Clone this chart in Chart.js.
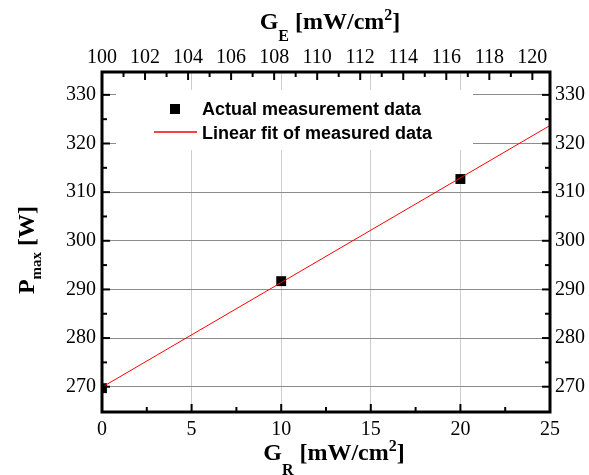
<!DOCTYPE html>
<html>
<head>
<meta charset="utf-8">
<script src="https://cdn.jsdelivr.net/npm/chart.js@4.4.1/dist/chart.umd.min.js"></script>
<style>
html,body{margin:0;padding:0;background:#fff;}
#wrap{width:589px;height:475px;}
</style>
</head>
<body>
<div id="wrap"><canvas id="c" width="589" height="475"></canvas></div>
<script>
// ---- data ----
const measuredGR = [0, 10, 20];
const measuredPmax = [269.7, 291.7, 312.7];
const fitGR = [0, 25];
const fitPmax = [269.9, 323.7];
const bottomTicks = [0, 5, 10, 15, 20, 25];
const bottomMinor = [2.5, 7.5, 12.5, 17.5, 22.5];
const topTicks = [100, 102, 104, 106, 108, 110, 112, 114, 116, 118, 120];
const topMinor = [101, 103, 105, 107, 109, 111, 113, 115, 117, 119];
const yTicks = [270, 280, 290, 300, 310, 320, 330];
const yMinor = [275, 285, 295, 305, 315, 325];
const seriesLabels = ['Actual measurement data', 'Linear fit of measured data'];
const bottomTitle = [['G', 'n'], ['R', 'sub'], [' [mW/cm', 'n'], ['2', 'sup'], [']', 'n']];
const topTitle = [['G', 'n'], ['E', 'sub'], [' [mW/cm', 'n'], ['2', 'sup'], [']', 'n']];
const leftTitle = [['P', 'n'], ['max', 'sub'], [' [W]', 'n']];

const SERIF = "'Liberation Serif'";
const SANS = "'Liberation Sans'";
Chart.defaults.font.family = SERIF;
Chart.defaults.color = '#000';

function drawRich(ctx, parts, cx, y, opt) {
  const fonts = {n: 'bold ' + opt.main + 'px ' + SERIF, sub: 'bold ' + opt.sub + 'px ' + SERIF, sup: 'bold ' + opt.sup + 'px ' + SERIF};
  const dys = {n: 0, sub: opt.subDy, sup: opt.supDy};
  let total = 0;
  const w = parts.map(p => { ctx.font = fonts[p[1]]; const m = ctx.measureText(p[0]).width; total += m; return m; });
  let x = cx - total / 2;
  ctx.textAlign = 'left';
  ctx.textBaseline = 'alphabetic';
  ctx.fillStyle = '#000';
  parts.forEach((p, i) => { ctx.font = fonts[p[1]]; ctx.fillText(p[0], x, y + dys[p[1]]); x += w[i]; });
}

const framePlugin = {
  id: 'frame',
  afterDraw(chart) {
    const ctx = chart.ctx, a = chart.chartArea, s = chart.scales;
    ctx.save();
    // legend
    const bx = a.left + 14, by = a.top + 18;
    ctx.fillStyle = '#ffffff';
    ctx.fillRect(bx, by, 357, 60);
    ctx.fillStyle = '#000000';
    ctx.fillRect(bx + 54, by + 14, 10, 10);
    ctx.font = 'bold 18px ' + SANS;
    ctx.textAlign = 'left'; ctx.textBaseline = 'alphabetic';
    ctx.fillText(seriesLabels[0], bx + 86, by + 25);
    ctx.fillText(seriesLabels[1], bx + 86, by + 48.5);
    ctx.beginPath();
    ctx.strokeStyle = '#ff0000';
    ctx.lineWidth = 1.5;
    ctx.moveTo(bx + 38, by + 42); ctx.lineTo(bx + 81, by + 42);
    ctx.stroke();
    // frame
    ctx.strokeStyle = '#000000';
    ctx.lineWidth = 3;
    ctx.strokeRect(a.left, a.top, a.right - a.left, a.bottom - a.top);
    // ticks
    ctx.lineWidth = 2;
    const tick = (x1, y1, x2, y2) => { ctx.beginPath(); ctx.moveTo(x1, y1); ctx.lineTo(x2, y2); ctx.stroke(); };
    bottomTicks.forEach(v => { const p = s.x.getPixelForValue(v); tick(p, a.bottom, p, a.bottom - 8); });
    bottomMinor.forEach(v => { const p = s.x.getPixelForValue(v); tick(p, a.bottom, p, a.bottom - 5); });
    topTicks.forEach(v => { const p = s.x2.getPixelForValue(v); tick(p, a.top, p, a.top + 8); });
    topMinor.forEach(v => { const p = s.x2.getPixelForValue(v); tick(p, a.top, p, a.top + 5); });
    yTicks.forEach(v => { const p = s.y.getPixelForValue(v); tick(a.left, p, a.left + 8, p); tick(a.right, p, a.right - 8, p); });
    yMinor.forEach(v => { const p = s.y.getPixelForValue(v); tick(a.left, p, a.left + 5, p); tick(a.right, p, a.right - 5, p); });
    // titles
    drawRich(ctx, bottomTitle, (a.left + a.right) / 2 + 8, 460, {main: 24, sub: 16, sup: 16, subDy: 15, supDy: -9});
    drawRich(ctx, topTitle, (a.left + a.right) / 2 + 4, 29, {main: 24, sub: 16, sup: 16, subDy: 12, supDy: -9});
    ctx.translate(33.5, 250);
    ctx.rotate(-Math.PI / 2);
    drawRich(ctx, leftTitle, 0, 0, {main: 24, sub: 15, sup: 15, subDy: 7.5, supDy: -9});
    ctx.restore();
  }
};

const setTicks = arr => scale => { scale.ticks = arr.map(v => ({value: v})); };
const tickFont = () => ({family: SERIF, size: 20, weight: 'normal'});

new Chart(document.getElementById('c'), {
  type: 'scatter',
  data: {
    datasets: [
      {label: seriesLabels[0], data: measuredGR.map((x, i) => ({x: x, y: measuredPmax[i]})),
       pointStyle: 'rect', pointRadius: 7, pointHoverRadius: 7, backgroundColor: '#000', borderColor: '#000', borderWidth: 0,
       xAxisID: 'x', yAxisID: 'y', order: 1, clip: 0},
      {label: seriesLabels[1], data: fitGR.map((x, i) => ({x: x, y: fitPmax[i]})),
       showLine: true, pointRadius: 0, pointHoverRadius: 0, borderColor: '#ff0000', borderWidth: 1,
       xAxisID: 'x', yAxisID: 'y', order: 0, clip: 0}
    ]
  },
  options: {
    responsive: false,
    animation: false,
    devicePixelRatio: 1,
    layout: {padding: 0},
    plugins: {legend: {display: false}, tooltip: {enabled: false}},
    scales: {
      x: {type: 'linear', position: 'bottom', min: 0, max: 25,
          afterBuildTicks: setTicks(bottomTicks),
          afterFit: s => { s.height = 63; },
          grid: {color: c => (c.tick && (c.tick.value === 0 || c.tick.value === 25)) ? 'rgba(0,0,0,0)' : '#cccccc', lineWidth: 1, drawTicks: false},
          border: {display: false},
          ticks: {font: tickFont(), color: '#000', padding: 6, maxRotation: 0, autoSkip: false}},
      x2: {type: 'linear', position: 'top', min: 100, max: 120.82,
          afterBuildTicks: setTicks(topTicks),
          afterFit: s => { s.height = 72; },
          grid: {display: false, drawTicks: false},
          border: {display: false},
          ticks: {font: tickFont(), color: '#000', padding: 2, maxRotation: 0, autoSkip: false}},
      y: {type: 'linear', position: 'left', min: 264.8, max: 334.7,
          afterBuildTicks: setTicks(yTicks),
          afterFit: s => { s.width = 102; },
          grid: {color: '#8c8c8c', lineWidth: 1, drawTicks: false},
          border: {display: false},
          ticks: {font: tickFont(), color: '#000', padding: 6, autoSkip: false}},
      y2: {type: 'linear', position: 'right', min: 264.8, max: 334.7,
          afterBuildTicks: setTicks(yTicks),
          afterFit: s => { s.width = 39; },
          grid: {display: false, drawTicks: false},
          border: {display: false},
          ticks: {font: tickFont(), color: '#000', padding: 5, autoSkip: false}}
    }
  },
  plugins: [framePlugin]
});
</script>
</body>
</html>
